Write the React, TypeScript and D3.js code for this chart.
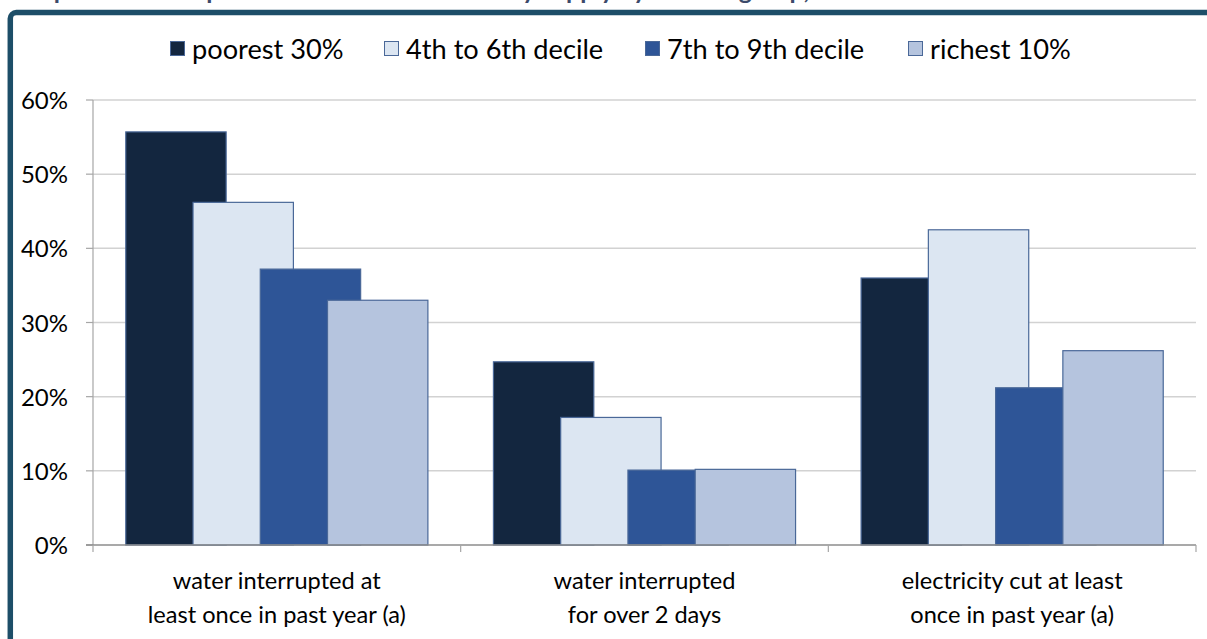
import { useEffect, useRef } from "react";
import * as d3 from "d3";

// chart data
const categories = [
  ["water interrupted at", "least once in past year (a)"],
  ["water interrupted", "for over 2 days"],
  ["electricity cut at least", "once in past year (a)"],
];
const seriesNames = ["poorest 30%", "4th to 6th decile", "7th to 9th decile", "richest 10%"];
const poorest30 = [55.7, 24.7, 36.0];
const decile4to6 = [46.2, 17.2, 42.5];
const decile7to9 = [37.2, 10.1, 21.2];
const richest10 = [33.0, 10.2, 26.2];
const yTicks = [0, 10, 20, 30, 40, 50, 60];
const seriesColors = ["#13263f", "#dce6f2", "#2e5597", "#b5c4de"];

const App = () => {
  const svgRef = useRef<SVGSVGElement | null>(null);

  function chartRender(svg: any) {
    const width = 1207;
    const height = 639;
    const left = 93;
    const right = 1196;
    const top = 100;
    const bottom = 545;
    const font = "Lato, 'DejaVu Sans', sans-serif";

    svg.attr("width", width).attr("height", height);

    // frame with a bit of shadow
    svg.append("rect")
      .attr("x", 12.3).attr("y", 14.5)
      .attr("width", 1400).attr("height", 900).attr("rx", 6)
      .attr("fill", "none").attr("stroke", "#c9cdd0").attr("stroke-width", 5.5);
    svg.append("rect")
      .attr("x", 10.3).attr("y", 12.6)
      .attr("width", 1400).attr("height", 900).attr("rx", 6)
      .attr("fill", "#fff").attr("stroke", "#1d4e68").attr("stroke-width", 5.5);

    // title, mostly cut off by the top of the picture (as in the reference)
    svg.append("text")
      .attr("x", 14).attr("y", -1)
      .attr("font-family", font).attr("font-weight", "bold").attr("font-size", 25)
      .attr("fill", "#3c4a6a")
      .text("Graph 12: Interruptions in water and electricity supply by income group, 2008");

    const yscale = d3.scaleLinear().domain([0, 60]).range([bottom, top]);
    const xscale = d3.scaleBand<number>().domain(d3.range(categories.length)).range([left, right]);
    const band = xscale.bandwidth();
    const barWidth = band * 0.273;
    const step = barWidth * 0.67;
    const pad = (band - (3 * step + barWidth)) / 2;
    const inner = d3.scaleLinear().domain([0, 3]).range([pad, pad + 3 * step]);

    // gridlines
    svg.append("g").selectAll("line").data(yTicks.slice(1)).join("line")
      .attr("x1", left).attr("x2", right)
      .attr("y1", (d: number) => yscale(d)).attr("y2", (d: number) => yscale(d))
      .attr("stroke", "#d2d2d2").attr("stroke-width", 1.5);

    // y axis
    svg.append("line")
      .attr("x1", left).attr("x2", left).attr("y1", top).attr("y2", bottom)
      .attr("stroke", "#a6a6a6").attr("stroke-width", 1.2);
    svg.append("g").selectAll("line").data(yTicks).join("line")
      .attr("x1", left - 7).attr("x2", left)
      .attr("y1", (d: number) => yscale(d)).attr("y2", (d: number) => yscale(d))
      .attr("stroke", "#a6a6a6").attr("stroke-width", 1.2);
    svg.append("g").selectAll("text").data(yTicks).join("text")
      .attr("x", 68).attr("y", (d: number) => yscale(d) + 9)
      .attr("text-anchor", "end")
      .attr("font-family", font).attr("font-size", 24).attr("fill", "#000")
      .text((d: number) => d + "%");

    // bars
    const series = [poorest30, decile4to6, decile7to9, richest10];
    series.forEach((values, si) => {
      svg.append("g").selectAll("rect").data(values).join("rect")
        .attr("x", (_d: number, i: number) => (xscale(i) as number) + inner(si))
        .attr("y", (d: number) => yscale(d))
        .attr("width", barWidth)
        .attr("height", (d: number) => bottom - yscale(d))
        .attr("fill", seriesColors[si])
        .attr("stroke", "#4a6898").attr("stroke-width", 1.2);
    });

    // x axis
    svg.append("line")
      .attr("x1", left - 7).attr("x2", right).attr("y1", bottom).attr("y2", bottom)
      .attr("stroke", "#8c8c8c").attr("stroke-width", 1.5);
    const bounds = d3.range(categories.length + 1).map((i) => left + i * band);
    svg.append("g").selectAll("line").data(bounds).join("line")
      .attr("x1", (d: number) => d).attr("x2", (d: number) => d)
      .attr("y1", bottom).attr("y2", bottom + 7)
      .attr("stroke", "#a6a6a6").attr("stroke-width", 1.2);
    categories.forEach((lines, i) => {
      const cx = (xscale(i) as number) + band / 2;
      lines.forEach((line, li) => {
        svg.append("text")
          .attr("x", cx).attr("y", 589 + li * 34)
          .attr("text-anchor", "middle")
          .attr("font-family", font).attr("font-size", 23.6).attr("fill", "#000")
          .text(line);
      });
    });

    // legend
    const legendX = [170, 384, 645, 908];
    seriesNames.forEach((name, i) => {
      svg.append("rect")
        .attr("x", legendX[i] + 0.5).attr("y", 41.5).attr("width", 14).attr("height", 14)
        .attr("fill", seriesColors[i]).attr("stroke", "#4a6898").attr("stroke-width", 1);
      svg.append("text")
        .attr("x", legendX[i] + 22).attr("y", 59)
        .attr("font-family", font).attr("font-size", 27.2).attr("fill", "#000")
        .text(name);
    });
  }

  useEffect(() => {
    if (svgRef.current) {
      const svg = d3.select(svgRef.current);
      svg.selectAll("*").remove();
      chartRender(svg);
      return () => {
        svg.selectAll("*").remove();
      };
    }
  }, []);

  return (
    <svg
      ref={svgRef}
      style={{ position: "absolute", left: 0, top: 0, overflow: "hidden", display: "block" }}
    ></svg>
  );
};

export default App;
